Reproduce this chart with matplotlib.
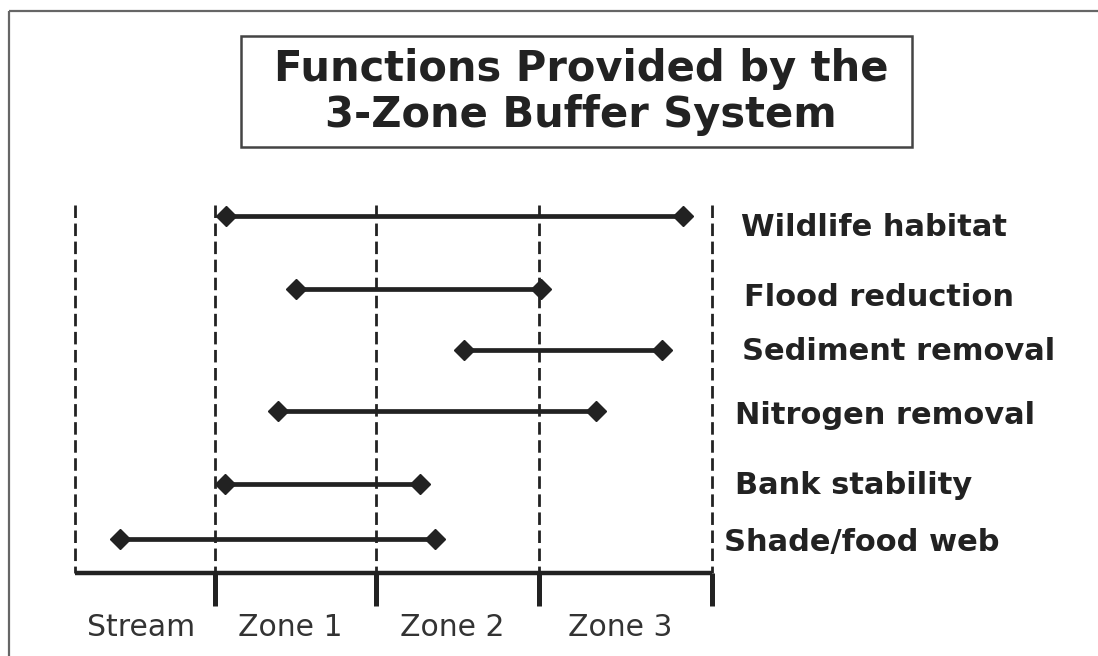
import numpy as np
from matplotlib import pyplot as plt
from matplotlib.patches import Rectangle

# zones of the buffer, left to right
zones = ['Stream', 'Zone 1', 'Zone 2', 'Zone 3']

# functions and the span (in zone units, 0 = stream edge) each one covers
functions = ['Wildlife habitat', 'Flood reduction', 'Sediment removal',
             'Nitrogen removal', 'Bank stability', 'Shade/food web']
starts = [1.07, 1.50, 2.54, 1.39, 1.06, 0.32]
ends = [3.83, 3.01, 3.71, 3.33, 2.27, 2.36]

title = 'Functions Provided by the\n3-Zone Buffer System'

# ---------------------------------------------------------------------------
# layout (pixels of the 1098x656 picture)
W, H = 1098, 656
zone_px = [75, 215, 376, 539, 712]       # where each zone boundary sits
row_y = [216, 289, 350, 411, 484, 539]   # line position of each function
label_y = [228, 298, 352, 415, 486, 543]
label_x = [741, 744, 742, 735, 735, 724]
axis_y = 573
dash_top = 205
tick_bottom = 606
ink = '#222222'

# piecewise-linear scale: zone units -> picture pixels
zu = [-5, 0, 1, 2, 3, 4, 7]
pu = [zone_px[0] - 5 * 140] + zone_px + [zone_px[-1] + 3 * 173]


def fwd(z):
    return np.interp(z, zu, pu)


def inv(p):
    return np.interp(p, pu, zu)


fig = plt.figure(figsize=(W / 100, H / 100), dpi=100)

# decoration layer in pixel units
deco = fig.add_axes([0, 0, 1, 1])
deco.set_xlim(0, W)
deco.set_ylim(H, 0)
deco.axis('off')

# chart layer in zone units
ax = fig.add_axes([0, 0, 1, 1])
ax.set_xscale('function', functions=(fwd, inv))
ax.set_xlim(float(inv(0)), float(inv(W)))
ax.set_ylim(H, 0)
ax.axis('off')
ax.patch.set_alpha(0)

# outer frame (top and left only visible)
deco.plot([9, W], [11, 11], color='#666666', lw=1.6, solid_capstyle='butt')
deco.plot([9, 9], [11, H], color='#666666', lw=1.6, solid_capstyle='butt')

# title box
deco.add_patch(Rectangle((241, 36), 671, 111, fill=False, edgecolor='#444444', lw=1.8))
deco.text(581, 92, title, ha='center', va='center', fontsize=30,
          fontweight='bold', family='DejaVu Sans', color=ink, linespacing=1.13)

edges = np.arange(len(zones) + 1)

# dashed zone boundaries
for e in edges:
    ax.plot([e, e], [dash_top, axis_y], color=ink, lw=2.0, linestyle=(0, (4.5, 2)))

# base axis with ticks
ax.plot([edges[0], edges[-1]], [axis_y, axis_y], color=ink, lw=3.2,
        solid_capstyle='butt')
for e in edges[1:]:
    ax.plot([e, e], [axis_y, tick_bottom], color=ink, lw=3.6, solid_capstyle='butt')

# zone names
for i, z in enumerate(zones):
    ax.text(i + 0.47, 628, z, ha='center', va='center', fontsize=21.5,
            family='DejaVu Sans', color='#333333')

# function spans
for i in range(len(functions)):
    ax.plot([starts[i], ends[i]], [row_y[i], row_y[i]], color=ink, lw=3.4,
            marker='D', markersize=10, markerfacecolor=ink, markeredgecolor=ink)
    deco.text(label_x[i], label_y[i], functions[i], ha='left', va='center',
              fontsize=22, fontweight='bold', family='DejaVu Sans', color=ink)

fig.savefig('out.png', dpi=100)
